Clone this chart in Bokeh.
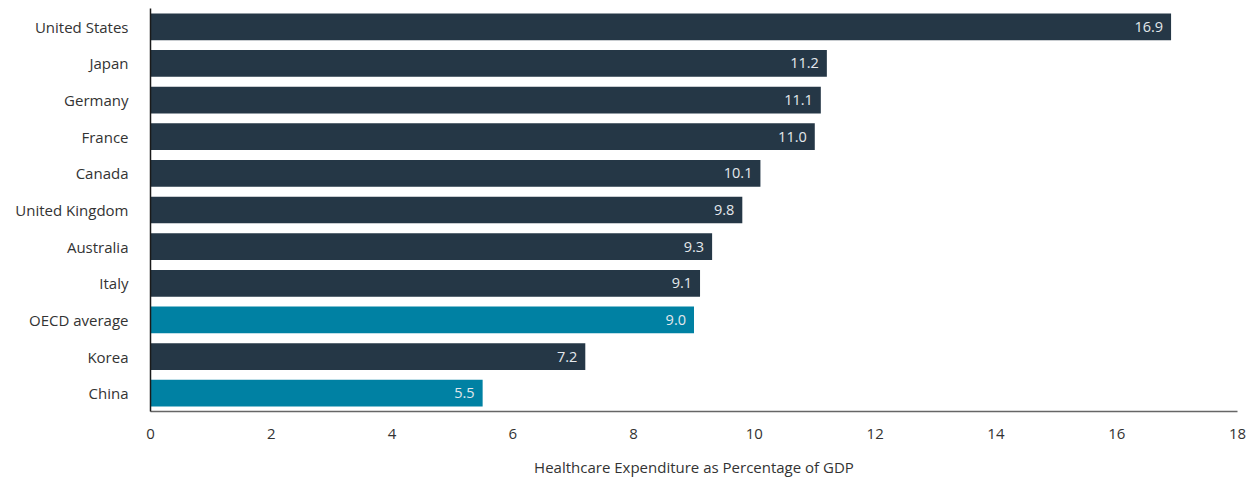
from bokeh.plotting import figure
from bokeh.models import ColumnDataSource, FactorRange, Range1d, FixedTicker
from bokeh.core.properties import value
from bokeh.embed import file_html
from bokeh.resources import INLINE

countries = ["United States", "Japan", "Germany", "France", "Canada", "United Kingdom",
             "Australia", "Italy", "OECD average", "Korea", "China"]
spending = [16.9, 11.2, 11.1, 11.0, 10.1, 9.8, 9.3, 9.1, 9.0, 7.2, 5.5]
highlight = ["OECD average", "China"]
x_ticks = [0, 2, 4, 6, 8, 10, 12, 14, 16, 18]
x_title = "Healthcare Expenditure as Percentage of GDP"

DARK = "#253746"
TEAL = "#0081a3"
FONT = "Open Sans"

colors = [TEAL if c in highlight else DARK for c in countries]
labels = ["%.1f" % v for v in spending]
src = ColumnDataSource(dict(country=countries, val=spending, color=colors, label=labels))

p = figure(width=1246, height=483, output_backend="svg", toolbar_location=None,
           y_range=FactorRange(factors=list(reversed(countries)), range_padding=0),
           x_range=Range1d(0, 18),
           min_border_left=150, min_border_right=9, min_border_top=8, min_border_bottom=72)
p.outline_line_color = None
p.background_fill_color = "white"
p.border_fill_color = "white"

p.hbar(y="country", right="val", left=0, height=0.73, fill_color="color",
       line_color=None, source=src)
p.text(x="val", y="country", text="label", x_offset=-8, text_align="right",
       text_baseline="middle", text_color="#e4e8ec", text_font_size="14.5px",
       text_font=value(FONT), source=src)

p.xgrid.visible = False
p.ygrid.visible = False

xa = p.xaxis[0]
xa.ticker = FixedTicker(ticks=x_ticks)
xa.axis_label = x_title
xa.axis_label_text_font_style = "normal"
xa.axis_label_text_font = FONT
xa.axis_label_text_font_size = "15px"
xa.axis_label_text_color = "#333333"
xa.axis_label_standoff = 15
xa.major_label_text_font = FONT
xa.major_label_text_font_size = "15px"
xa.major_label_text_color = "#333333"
xa.major_label_standoff = 17
xa.major_tick_line_color = None
xa.major_tick_out = 0
xa.major_tick_in = 0
xa.minor_tick_line_color = None
xa.axis_line_color = "#666666"
xa.axis_line_width = 1.5

ya = p.yaxis[0]
ya.major_label_text_font = FONT
ya.major_label_text_font_size = "15px"
ya.major_label_text_color = "#333333"
ya.major_label_standoff = 22
ya.major_tick_line_color = None
ya.major_tick_out = 0
ya.major_tick_in = 0
ya.minor_tick_line_color = None
ya.axis_line_color = "#1a1a1a"
ya.axis_line_width = 1.5

open("out.html", "w").write(file_html(p, INLINE))
